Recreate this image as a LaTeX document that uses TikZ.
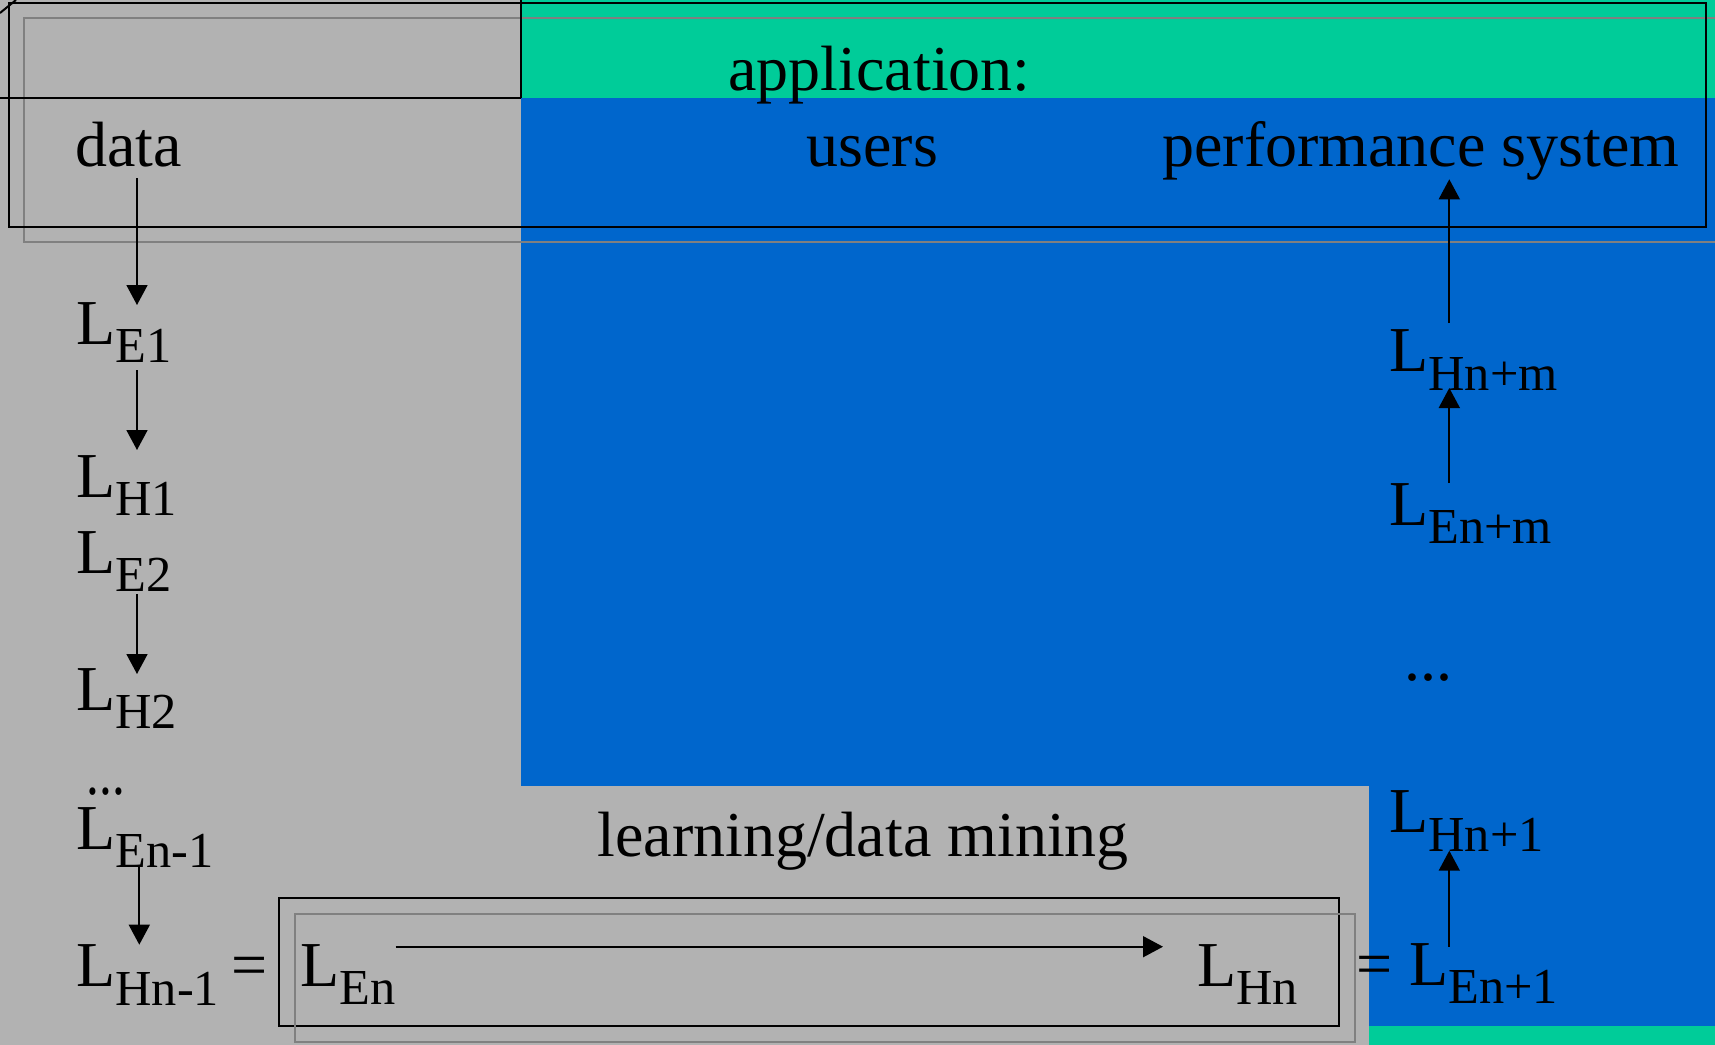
\documentclass[tikz,border=0pt]{standalone}
\usepackage{fontspec}
\setmainfont{Liberation Serif}
\usepackage{graphicx}
\usetikzlibrary{arrows.meta,calc}
\definecolor{bggray}{HTML}{B2B2B2}
\definecolor{appgreen}{HTML}{00CC99}
\definecolor{userblue}{HTML}{0066CC}
\definecolor{linegray}{HTML}{808080}
\newcommand\Lsb[1]{L\raisebox{-9.25pt}{\fontsize{25.2pt}{30pt}\selectfont #1}}
\tikzset{
  txt/.style={anchor=base west, inner sep=0pt, text=black, font=\fontsize{32pt}{38pt}\selectfont},
  arr/.style={line width=0.85pt, black, -{Triangle[width=10.5pt,length=10pt]}},
  bline/.style={line width=1pt, black},
  gline/.style={line width=1pt, linegray},
}
\begin{document}
\begin{tikzpicture}[x=0.5pt,y=-0.5pt]
\useasboundingbox (0,0) rectangle (1715,1045);
% regions
\fill[bggray] (0,0) rectangle (1715,1045);
\fill[appgreen] (521,0) rectangle (1715,97.7);
\fill[userblue] (521,97.7) rectangle (1715,785.5);
\fill[userblue] (1369,785.5) rectangle (1715,1025.7);
\fill[appgreen] (1369,1025.7) rectangle (1715,1045);
% frames
\draw[gline] (1715,18.3) -- (24,18.3) -- (24,242) -- (1715,242);
\draw[bline] (9,2.7) rectangle (1705.7,226.7);
\draw[bline] (0,97.7) -- (521,97.7);
\draw[bline, line width=1.4pt] (521,0) -- (521,97.7);
\draw[bline] (0,13) -- (16,0);
\draw[bline] (279,898.3) rectangle (1339,1026);
\draw[gline] (295,914.3) rectangle (1355,1042.3);
% texts
\node[txt] (app) at (728,90) {application:};
\node[txt] (data) at (75,166) {data};
\node[txt] (users) at (806,166) {users};
\node[txt] (perf) at (1162,166) {performance system};
\node[txt] (LE1) at (76,344) {\Lsb{E1}};
\node[txt] (LH1) at (76,497) {\Lsb{H1}};
\node[txt] (LE2) at (76,573.3) {\Lsb{E2}};
\node[txt] (LH2) at (76,710) {\Lsb{H2}};
\node[txt] (dotsL) at (86.5,794) {\scalebox{0.8}[1]{...}};
\node[txt] (LEnm1) at (76,849.3) {\Lsb{En-1}};
\node[txt] (LHnm1) at (76,986.7) {\Lsb{Hn-1}};
\node[txt] (eqL) at (231,986) {=};
\node[txt] (LEn) at (300,986) {\Lsb{En}};
\node[txt] (LHn) at (1197,986) {\Lsb{Hn}};
\node[txt] (eqR) at (1356,985) {=};
\node[txt] (LEnp1) at (1409,985) {\Lsb{En+1}};
\node[txt] (LHnp1) at (1389,832.7) {\Lsb{Hn+1}};
\node[txt] (dotsR) at (1404.5,680) {...};
\node[txt] (LEnpm) at (1389,525) {\Lsb{En+m}};
\node[txt] (LHnpm) at (1389,371.7) {\Lsb{Hn+m}};
\node[txt] (learn) at (597,856) {learning/data mining};
% arrow columns
\coordinate (xL) at (137,0);
\coordinate (xL2) at (139.3,0);
\coordinate (xR) at (1449.3,0);
% connectors
\draw[arr] ($(data.base -| xL)+(0,12)$) -- ($(LE1.base -| xL)+(0,-39)$);
\draw[arr] ($(LE1.base -| xL)+(0,26)$) -- ($(LH1.base -| xL)+(0,-47)$);
\draw[arr] ($(LE2.base -| xL)+(0,21)$) -- ($(LH2.base -| xL)+(0,-36)$);
\draw[arr] ($(LEnm1.base -| xL2)+(0,17)$) -- ($(LHnm1.base -| xL2)+(0,-42)$);
\draw[arr] ($(LEn.base west)+(95.7,-39.3)$) -- ($(LHn.base west)+(-34,-39.3)$);
\draw[arr] ($(LEnp1.base -| xR)+(0,-38.3)$) -- ($(LHnp1.base -| xR)+(0,18)$);
\draw[arr] ($(LEnpm.base -| xR)+(0,-42)$) -- ($(LHnpm.base -| xR)+(0,16.3)$);
\draw[arr] ($(LHnpm.base -| xR)+(0,-48.7)$) -- ($(perf.base -| xR)+(0,13.3)$);
\end{tikzpicture}
\end{document}
